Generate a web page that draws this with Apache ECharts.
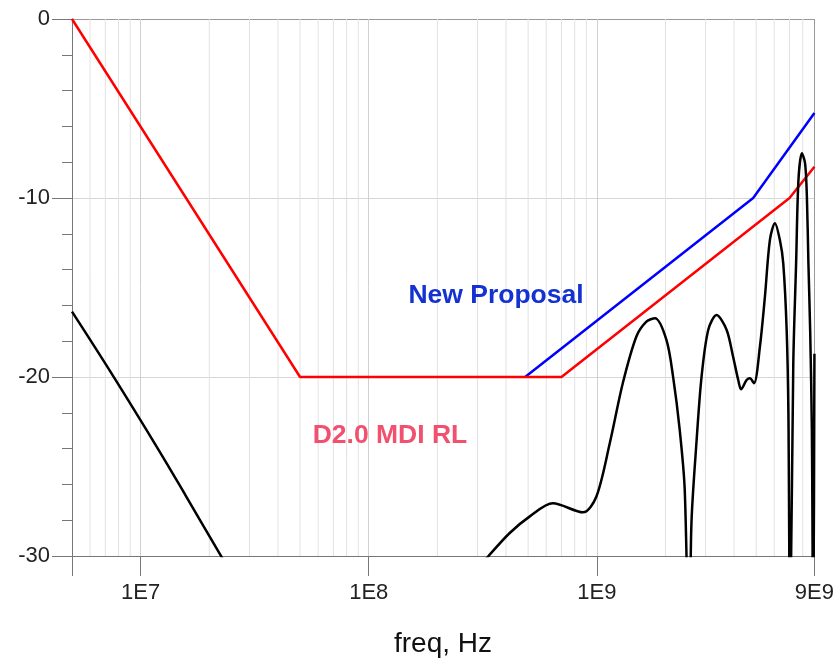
<!DOCTYPE html>
<html><head><meta charset="utf-8">
<script src="https://cdn.jsdelivr.net/npm/echarts@6/dist/echarts.min.js"></script>
<style>html,body{margin:0;padding:0;background:#fff}#c{width:837px;height:665px}</style>
</head><body><div id="c"></div>
<script>
// x tick labels shown on the log axis
const xTickLabels = ['1E7', '1E8', '1E9', '9E9'];
// D2.0 MDI RL limit (red)
const limitFreq = [5e6, 5e7, 7e8, 7e9, 9e9];
const limitDb = [0, -20, -20, -10, -8.25];
// New Proposal limit (blue)
const proposalFreq = [4.85e8, 4.85e9, 9e9];
const proposalDb = [-20, -10, -5.25];
// Measured return loss (black), low-frequency segment
const measFreqA = [5e6, 7.64e6, 1.2e7, 1.58e7, 2.26e7, 2.6e7];
const measDbA = [-16.35, -20.02, -24.08, -26.65, -30.04, -31.3];
// Measured return loss (black), high-frequency segment
const measFreqB = [3.0e8, 3.33e8, 4.14e8, 5.07e8, 6.42e8, 8.7e8, 9.95e8, 1.14e9, 1.3e9, 1.49e9, 1.65e9, 1.8e9,
  2.02e9, 2.16e9, 2.31e9, 2.43e9, 2.54e9, 2.6e9, 2.74e9, 2.88e9, 3.08e9, 3.35e9, 3.71e9, 3.96e9, 4.17e9, 4.29e9,
  4.54e9, 4.69e9, 4.89e9, 5.19e9, 5.46e9, 5.74e9, 6.04e9, 6.35e9, 6.57e9, 6.8e9, 6.92e9, 7.04e9, 7.27e9, 7.48e9,
  7.66e9, 7.93e9, 8.19e9, 8.34e9, 8.47e9, 8.62e9, 8.77e9, 8.89e9, 9e9];
const measDbB = [-30.7, -30.04, -28.73, -27.8, -27.06, -27.56, -26.69, -23.7, -20.35, -17.75, -16.91, -16.72,
  -17.93, -19.98, -22.96, -26.31, -36, -28.17, -23.52, -19.98, -17.37, -16.54, -17.37, -18.87, -20.17, -20.69,
  -20.17, -20.07, -20.35, -18.31, -15.51, -12.35, -11.41, -12.35, -13.65, -17.37, -22.03, -35, -19.24, -13.65,
  -8.99, -7.5, -8.06, -9.93, -13.65, -17.37, -22.96, -35, -18.7];
// minor log grid multipliers
const minorMult = [2, 3, 4, 5, 6, 7, 8, 9];
const decades = [1e6, 1e7, 1e8, 1e9];

const zip = (a, b) => a.map((v, i) => [v, b[i]]);
// minor grid drawn as vertical guide segments (through the axis scale)
const minorGrid = [];
decades.forEach(d => minorMult.forEach(m => {
  const f = d * m;
  if (f > 5e6 && f < 9e9) { minorGrid.push([f, -30], [f, 0], [f, '-']); }
}));

const FONT = 'Liberation Sans, Arial, sans-serif';
const chart = echarts.init(document.getElementById('c'), null, { renderer: 'canvas' });
chart.setOption({
  animation: false,
  backgroundColor: '#fff',
  grid: { left: 72, right: 22, top: 19, bottom: 109, containLabel: false },
  xAxis: {
    type: 'log', logBase: 10, min: 5e6, max: 9e9,
    axisLine: { show: true, onZero: false, lineStyle: { color: '#777', width: 1 } },
    axisTick: { show: true, length: 20, lineStyle: { color: '#777' } },
    axisLabel: {
      fontSize: 22, color: '#222', margin: 26, fontFamily: FONT,
      formatter: v => {
        const s = Number(v).toExponential(0).toUpperCase().replace('+', '');
        return xTickLabels.includes(s) ? s : '';
      }
    },
    splitLine: { show: true, lineStyle: { color: ['#777', '#d0d0d0', '#d0d0d0', '#d0d0d0', '#999'] } }
  },
  yAxis: {
    type: 'value', min: -30, max: 0, interval: 10,
    axisLine: { show: true, onZero: false, lineStyle: { color: '#777' } },
    axisTick: { show: true, length: 20, lineStyle: { color: '#777' } },
    minorTick: { show: true, splitNumber: 5, length: 10, lineStyle: { color: '#777' } },
    axisLabel: { fontSize: 22, color: '#222', margin: 22, fontFamily: FONT },
    splitLine: { show: true, lineStyle: { color: ['#777', '#d6d6d6', '#d6d6d6', '#999'] } }
  },
  series: [
    {
      type: 'line', data: minorGrid, z: 0, silent: true, showSymbol: false, connectNulls: false,
      lineStyle: { color: '#e2e2e2', width: 1 }
    },
    { type: 'line', data: zip(proposalFreq, proposalDb), showSymbol: false, lineStyle: { color: '#0000ff', width: 2.5 }, z: 3 },
    { type: 'line', data: zip(limitFreq, limitDb), showSymbol: false, lineStyle: { color: '#ff0000', width: 2.5 }, z: 4 },
    { type: 'line', data: zip(measFreqA, measDbA), showSymbol: false, smooth: 0.4, lineStyle: { color: '#000', width: 2.5 }, z: 5 },
    { type: 'line', data: zip(measFreqB, measDbB), showSymbol: false, smooth: 0.3, lineStyle: { color: '#000', width: 2.5 }, z: 5 }
  ],
  graphic: [
    { type: 'text', x: 496, y: 296, z: 10, style: { text: 'New Proposal', fill: '#1432d2', font: 'bold 26.5px ' + FONT, textAlign: 'center', textVerticalAlign: 'middle' } },
    { type: 'text', x: 390, y: 436, z: 10, style: { text: 'D2.0 MDI RL', fill: '#f2506f', font: 'bold 26.5px ' + FONT, textAlign: 'center', textVerticalAlign: 'middle' } },
    { type: 'text', x: 443, y: 644, z: 10, style: { text: 'freq, Hz', fill: '#111', font: '28px ' + FONT, textAlign: 'center', textVerticalAlign: 'middle' } }
  ]
});
</script></body></html>
